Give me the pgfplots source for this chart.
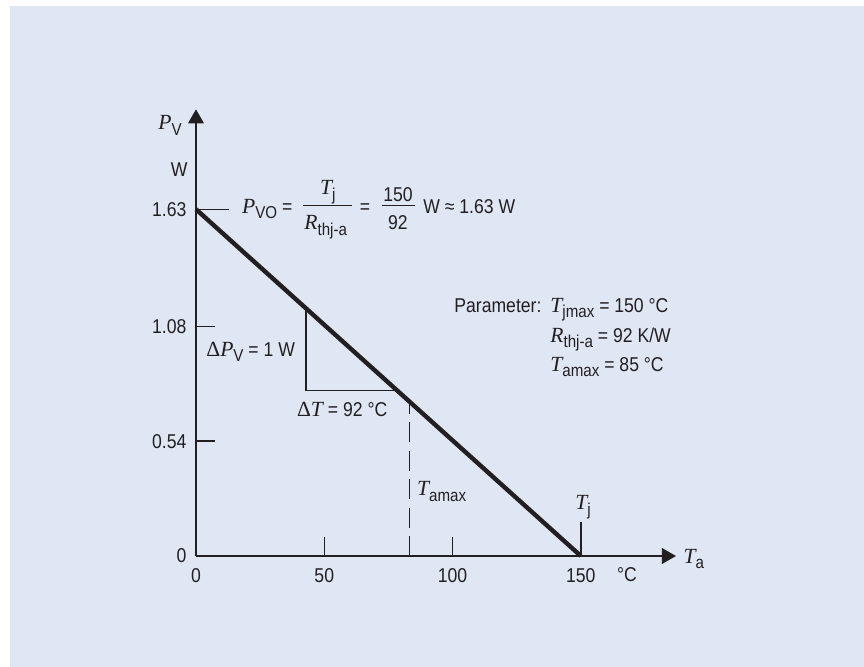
\documentclass[border=0pt]{standalone}
\usepackage{fontspec}
\setmainfont{Liberation Sans}[FakeStretch=0.88]
\newfontfamily\tms{Liberation Serif}
\usepackage{pgfplots}
\pgfplotsset{compat=1.18}
\usetikzlibrary{arrows.meta}

\definecolor{bg}{RGB}{223,231,244}
\definecolor{ink}{RGB}{35,31,32}

% italic serif variable, sans subscript, serif Delta
\newcommand\vr[1]{{\tms\itshape\fontsize{10.8}{12}\selectfont #1}}
\newcommand\sbs[1]{\raisebox{-2.6pt}{\fontsize{8.6}{10}\selectfont #1}}
\newcommand\dl{{\tms\fontsize{10.8}{12}\selectfont Δ}}

\begin{document}
\begin{tikzpicture}
\begin{scope}[x=0.5pt,y=-0.5pt]
  \fill[white] (0,0) rectangle (864,667);
  \fill[bg] (10,6) rectangle (864,667);
\end{scope}

\begin{axis}[
    at={(98pt,-278pt)}, anchor=origin,
    width=240pt, height=223.35pt, scale only axis,
    xmin=0, xmax=187.1, ymin=0, ymax=2.10,
    clip=false,
    axis lines=left,
    axis line style={draw=ink, line width=0.85pt, -{Triangle[length=7pt,width=7.8pt]}},
    every outer x axis line/.append style={-{Triangle[length=7pt,width=7.8pt]}},
    every outer y axis line/.append style={-{Triangle[length=7pt,width=7.8pt]}},
    xtick={0,50,100,150}, xticklabels={0,50,100,150},
    ytick={0,0.54,1.08,1.63}, yticklabels={0,0.54,1.08,1.63},
    tick align=inside, major tick length=9.35pt,
    tick style={draw=ink, line width=0.75pt},
    xticklabel style={anchor=base, inner sep=0pt, yshift=-13.25pt,
      font=\fontsize{10}{12}\selectfont, text=ink},
    yticklabel style={anchor=east, inner sep=0pt, xshift=-4.6pt,
      font=\fontsize{10}{12}\selectfont, text=ink},
  ]
  % power derating line
  \addplot[ink, line width=2.2pt] coordinates {(0,1.63) (150,0)};
  % slope triangle
  \addplot[ink, line width=0.75pt] coordinates {(42.8,1.163) (42.8,0.779) (77.6,0.779)};
  % T_amax marker
  \addplot[ink, line width=0.75pt, dash pattern=on 10pt off 4.2pt] coordinates {(83.2,0) (83.2,0.726)};
  % T_j marker and P_VO marker
  \addplot[ink, line width=0.75pt] coordinates {(150,0) (150,0.161)};
  \addplot[ink, line width=0.75pt] coordinates {(0,1.63) (13,1.63)};
\end{axis}

\begin{scope}[x=0.5pt,y=-0.5pt,
    every node/.style={font=\fontsize{10}{12}\selectfont, text=ink, inner sep=0pt}]
  \node[anchor=base west] at (158,130) {\vr{P}\sbs{V}};
  \node[anchor=base east] at (188,177) {W};
  % formula
  \node[anchor=base west] at (241.7,213.3) {\vr{P}\sbs{VO} =};
  \node[anchor=base] at (327.7,195) {\vr{T}\sbs{j}};
  \draw[ink, line width=0.75pt] (303.3,205.7) -- (351.7,205.7);
  \node[anchor=base west] at (304,230) {\vr{R}\sbs{thj-a}};
  \node[anchor=base] at (365,213.3) {=};
  \node[anchor=base] at (398,201.7) {150};
  \draw[ink, line width=0.75pt] (381.7,205.7) -- (415,205.7);
  \node[anchor=base] at (398,230) {92};
  \node[anchor=base west] at (423,213.3) {W ≈ 1.63 W};
  % parameters
  \node[anchor=base west] at (454,312.7) {Parameter:};
  \node[anchor=base west] at (550,312.7) {\vr{T}\sbs{jmax} = 150 °C};
  \node[anchor=base west] at (550,342.7) {\vr{R}\sbs{thj-a} = 92 K/W};
  \node[anchor=base west] at (550,371.7) {\vr{T}\sbs{amax} = 85 °C};
  % triangle labels
  \node[anchor=base west] at (206,356.5) {\dl\vr{P}\sbs{V} = 1 W};
  \node[anchor=base west] at (296.7,416.7) {\dl\vr{T} = 92 °C};
  % markers
  \node[anchor=base west] at (416.7,496) {\vr{T}\sbs{amax}};
  \node[anchor=base west] at (575,510) {\vr{T}\sbs{j}};
  \node[anchor=base west] at (616.7,581.7) {°C};
  \node[anchor=base west] at (683.3,563.3) {\vr{T}\sbs{a}};
  \pgfresetboundingbox
  \useasboundingbox (0,0) rectangle (864,667);
\end{scope}
\end{tikzpicture}
\end{document}
